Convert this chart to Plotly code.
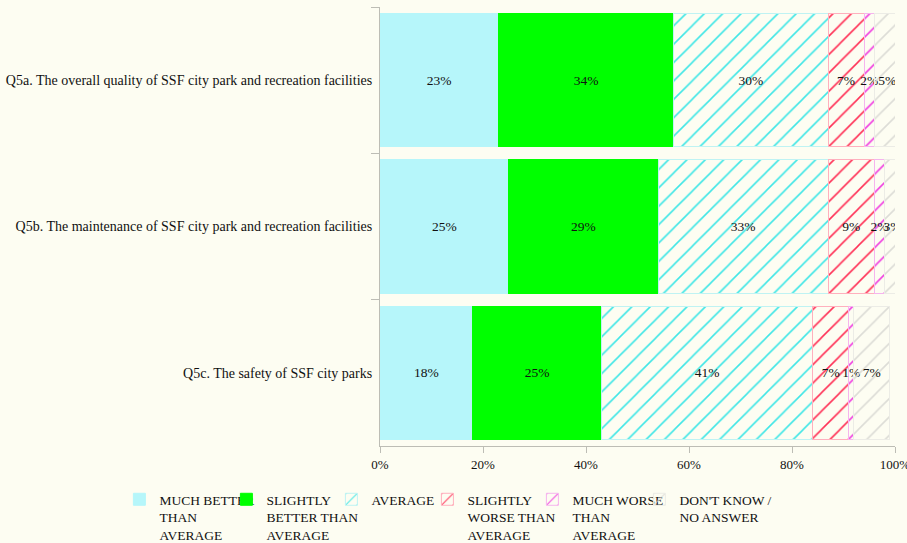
import plotly.graph_objects as go

# Survey items (top to bottom) and response shares in percent
questions = [
    "Q5a. The overall quality of SSF city park and recreation facilities",
    "Q5b. The maintenance of SSF city park and recreation facilities",
    "Q5c. The safety of SSF city parks",
]
much_better = [23, 25, 18]
slightly_better = [34, 29, 25]
average = [30, 33, 41]
slightly_worse = [7, 9, 7]
much_worse = [2, 2, 1]
dont_know = [5, 3, 7]

series_names = [
    "MUCH BETTER<br>THAN<br>AVERAGE",
    "SLIGHTLY<br>BETTER THAN<br>AVERAGE",
    "AVERAGE",
    "SLIGHTLY<br>WORSE THAN<br>AVERAGE",
    "MUCH WORSE<br>THAN<br>AVERAGE",
    "DON'T KNOW /<br>NO ANSWER",
]
series_values = [much_better, slightly_better, average, slightly_worse, much_worse, dont_know]

BG = "#FDFDF2"
FONT = "Liberation Serif, Times New Roman, serif"
CLEAR = "rgba(0,0,0,0)"

# (solid colour, hatch colour, outline colour); hatch None means a solid fill
styles = [
    ("#B6F6FA", None, "#B6F6FA"),
    ("#00FF00", None, "#00FF00"),
    (CLEAR, "#3EE6E6", "#BFF3F3"),
    (CLEAR, "#FF2F55", "#FFB0BE"),
    (CLEAR, "#F03CE0", "#F5B5EE"),
    (CLEAR, "#DCDCD6", "#ECECE6"),
]

# Plot area in pixels, used to place each legend entry in paper units
PLOT_LEFT, PLOT_WIDTH = 380, 515
legend_text_px = [160, 267, 372, 468, 573, 680]
legend_ids = ["legend", "legend2", "legend3", "legend4", "legend5", "legend6"]

fig = go.Figure()
for name, vals, (fill, hatch, edge), lid in zip(series_names, series_values, styles, legend_ids):
    marker = dict(color=fill, line=dict(color=edge, width=1))
    if hatch:
        marker["pattern"] = dict(shape="/", fgcolor=hatch, bgcolor=CLEAR,
                                 size=13, solidity=0.12, fillmode="replace")
    fig.add_trace(go.Bar(
        y=questions,
        x=[v / 100 for v in vals],
        orientation="h",
        name=name,
        legend=lid,
        marker=marker,
        text=[f"{v}%" for v in vals],
        textposition="inside",
        insidetextanchor="middle",
        textangle=0,
        textfont=dict(family=FONT, size=13.5, color="#111111"),
        hoverinfo="skip",
    ))

legend_layout = {}
for lid, tx in zip(legend_ids, legend_text_px):
    legend_layout[lid] = dict(
        orientation="h",
        xref="paper", x=(tx - 40.6 - PLOT_LEFT) / PLOT_WIDTH, xanchor="left",
        yref="paper", y=-0.0866, yanchor="top",
        itemwidth=30,
        font=dict(family=FONT, size=13.5, color="#111111"),
        bgcolor=CLEAR,
        valign="top",
    )

fig.update_layout(
    barmode="stack",
    bargap=0.09,
    width=907,
    height=543,
    margin=dict(l=380, r=12, t=7, b=97, autoexpand=False),
    paper_bgcolor=BG,
    plot_bgcolor=BG,
    font=dict(family=FONT, size=13, color="#111111"),
    uniformtext=dict(minsize=13.5, mode="show"),
    showlegend=True,
    xaxis=dict(
        range=[0, 1],
        tickvals=[0, 0.2, 0.4, 0.6, 0.8, 1.0],
        tickformat=".0%",
        showgrid=False,
        zeroline=False,
        showline=True,
        linecolor="#BDBDB5",
        ticks="outside",
        ticklen=6,
        tickcolor="#BDBDB5",
        ticklabeloverflow="allow",
        tickfont=dict(family=FONT, size=13, color="#111111"),
        fixedrange=True,
    ),
    yaxis=dict(
        autorange="reversed",
        showgrid=False,
        showline=True,
        linecolor="#BDBDB5",
        ticks="outside",
        tickson="boundaries",
        ticklen=8,
        tickcolor="#BDBDB5",
        ticklabelstandoff=4,
        tickfont=dict(family=FONT, size=14, color="#111111"),
        fixedrange=True,
    ),
    **legend_layout,
)

fig.write_html("out.html")
